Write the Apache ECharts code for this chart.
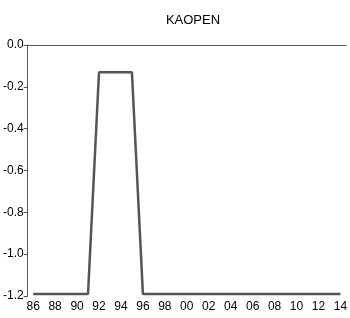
<!DOCTYPE html>
<html>
<head>
<meta charset="utf-8">
<script src="https://cdn.jsdelivr.net/npm/echarts@6/dist/echarts.min.js"></script>
<style>
  html, body { margin: 0; padding: 0; background: #fff; }
  #chart { width: 350px; height: 318px; }
</style>
</head>
<body>
<div id="chart"></div>
<script>
// years 1986..2014, shown as two digit labels
var years = ['86','87','88','89','90','91','92','93','94','95','96','97','98','99','00',
             '01','02','03','04','05','06','07','08','09','10','11','12','13','14'];
var kaopen = [-1.19,-1.19,-1.19,-1.19,-1.19,-1.19,-0.13,-0.13,-0.13,-0.13,-1.19,-1.19,-1.19,-1.19,-1.19,
              -1.19,-1.19,-1.19,-1.19,-1.19,-1.19,-1.19,-1.19,-1.19,-1.19,-1.19,-1.19,-1.19,-1.19];
var yTicks = [0, -0.2, -0.4, -0.6, -0.8, -1.0, -1.2];

var chart = echarts.init(document.getElementById('chart'));
var axisCol = '#555';
var font = '"Liberation Sans Narrow", "Liberation Sans", Arial, sans-serif';

chart.setOption({
  animation: false,
  title: {
    text: 'KAOPEN',
    left: 188,
    textAlign: 'center',
    top: 9,
    textStyle: { fontFamily: '"Liberation Sans", Arial, sans-serif', fontSize: 13, fontWeight: 'normal', color: '#000' }
  },
  grid: { left: 26, right: 0, top: 45, bottom: 22 },
  xAxis: [
    {
      type: 'category',
      data: years,
      boundaryGap: true,
      offset: 2,
      axisLine: { lineStyle: { color: axisCol, width: 1 } },
      axisTick: { alignWithLabel: true, interval: 0, length: 4, lineStyle: { color: axisCol } },
      axisLabel: { interval: 1, margin: 3, fontFamily: font, fontSize: 12, color: '#000' },
      splitLine: { show: false }
    },
    {
      type: 'category',
      position: 'top',
      data: years,
      axisLine: { lineStyle: { color: axisCol, width: 1 } },
      axisTick: { show: false },
      axisLabel: { show: false }
    }
  ],
  yAxis: {
    type: 'value',
    min: -1.2,
    max: 0,
    interval: 0.2,
    axisLine: { show: true, lineStyle: { color: axisCol, width: 1 } },
    axisTick: { show: true, length: 4, lineStyle: { color: axisCol } },
    splitLine: { show: false },
    axisLabel: {
      margin: 4,
      fontFamily: font,
      fontSize: 12,
      color: '#000',
      formatter: function (v) {
        var r = Math.round(v * 10) / 10;
        return yTicks.indexOf(r) >= 0 ? r.toFixed(1) : '';
      }
    }
  },
  series: [{
    type: 'line',
    data: kaopen,
    symbol: 'none',
    lineStyle: { color: '#555', width: 2.5 }
  }]
});
</script>
</body>
</html>
